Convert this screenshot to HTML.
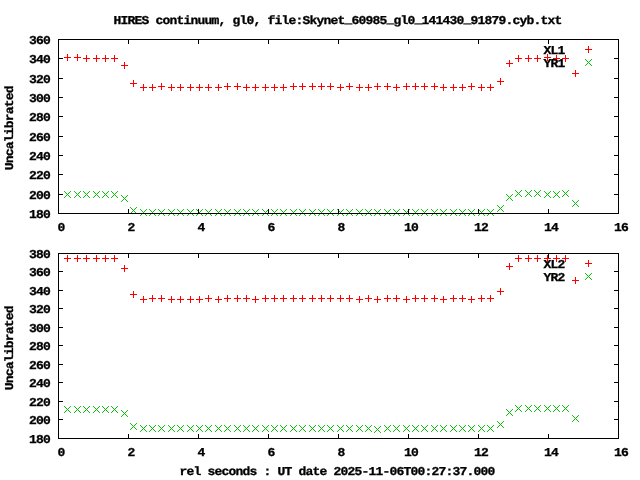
<!DOCTYPE html>
<html><head><meta charset="utf-8"><title>HIRES continuum</title>
<style>
html,body{margin:0;padding:0;background:#fff;}
svg{display:block;}
text{font-family:"Liberation Mono",monospace;font-weight:bold;font-size:12px;letter-spacing:-0.7385px;fill:#000;stroke:#000;stroke-width:0.3px;text-rendering:geometricPrecision;}
</style></head><body>
<svg width="640" height="480" viewBox="0 0 640 480">
<rect width="640" height="480" fill="#fff"/>
<text transform="translate(113.39999999999998,24) scale(1.0833,1)" x="0" y="0">HIRES continuum, gl0, file:Skynet<tspan dy="-1.5">_</tspan><tspan dy="1.5">60985</tspan><tspan dy="-1.5">_</tspan><tspan dy="1.5">gl0</tspan><tspan dy="-1.5">_</tspan><tspan dy="1.5">141430</tspan><tspan dy="-1.5">_</tspan><tspan dy="1.5">91879.cyb.txt</tspan></text>
<path d="M64 57.5h7M67.5 54v7M74 57.5h7M77.5 54v7M83 58.5h7M86.5 55v7M93 58.5h7M96.5 55v7M102 58.5h7M105.5 55v7M111 58.5h7M114.5 55v7M121 65.5h7M124.5 62v7M130 83.5h7M133.5 80v7M140 87.5h7M143.5 84v7M149 87.5h7M152.5 84v7M158 86.5h7M161.5 83v7M168 87.5h7M171.5 84v7M177 87.5h7M180.5 84v7M187 87.5h7M190.5 84v7M196 87.5h7M199.5 84v7M205 87.5h7M208.5 84v7M215 87.5h7M218.5 84v7M224 86.5h7M227.5 83v7M234 86.5h7M237.5 83v7M243 87.5h7M246.5 84v7M252 87.5h7M255.5 84v7M262 87.5h7M265.5 84v7M271 87.5h7M274.5 84v7M280 87.5h7M283.5 84v7M290 86.5h7M293.5 83v7M299 86.5h7M302.5 83v7M309 86.5h7M312.5 83v7M318 86.5h7M321.5 83v7M327 86.5h7M330.5 83v7M337 87.5h7M340.5 84v7M346 86.5h7M349.5 83v7M356 87.5h7M359.5 84v7M365 87.5h7M368.5 84v7M374 86.5h7M377.5 83v7M384 86.5h7M387.5 83v7M393 87.5h7M396.5 84v7M403 86.5h7M406.5 83v7M412 86.5h7M415.5 83v7M421 86.5h7M424.5 83v7M431 86.5h7M434.5 83v7M440 87.5h7M443.5 84v7M450 87.5h7M453.5 84v7M459 87.5h7M462.5 84v7M468 86.5h7M471.5 83v7M478 87.5h7M481.5 84v7M487 87.5h7M490.5 84v7M497 81.5h7M500.5 78v7M506 63.5h7M509.5 60v7M515 58.5h7M518.5 55v7M525 58.5h7M528.5 55v7M534 58.5h7M537.5 55v7M544 57.5h7M547.5 54v7M553 58.5h7M556.5 55v7M562 58.5h7M565.5 55v7M572 73.5h7M575.5 70v7M585 49.5h7M588.5 46v7" stroke="#ff0000" stroke-width="1" fill="none" shape-rendering="crispEdges"/>
<path d="M64.1 191.1l6.8 6.8M64.1 197.9l6.8 -6.8M74.1 191.1l6.8 6.8M74.1 197.9l6.8 -6.8M83.1 191.1l6.8 6.8M83.1 197.9l6.8 -6.8M93.1 191.1l6.8 6.8M93.1 197.9l6.8 -6.8M102.1 191.1l6.8 6.8M102.1 197.9l6.8 -6.8M111.1 191.1l6.8 6.8M111.1 197.9l6.8 -6.8M121.1 195.1l6.8 6.8M121.1 201.9l6.8 -6.8M130.1 207.1l6.8 6.8M130.1 213.9l6.8 -6.8M140.1 209.1l6.8 6.8M140.1 215.9l6.8 -6.8M149.1 209.1l6.8 6.8M149.1 215.9l6.8 -6.8M158.1 209.1l6.8 6.8M158.1 215.9l6.8 -6.8M168.1 209.1l6.8 6.8M168.1 215.9l6.8 -6.8M177.1 209.1l6.8 6.8M177.1 215.9l6.8 -6.8M187.1 209.1l6.8 6.8M187.1 215.9l6.8 -6.8M196.1 209.1l6.8 6.8M196.1 215.9l6.8 -6.8M205.1 209.1l6.8 6.8M205.1 215.9l6.8 -6.8M215.1 209.1l6.8 6.8M215.1 215.9l6.8 -6.8M224.1 209.1l6.8 6.8M224.1 215.9l6.8 -6.8M234.1 209.1l6.8 6.8M234.1 215.9l6.8 -6.8M243.1 209.1l6.8 6.8M243.1 215.9l6.8 -6.8M252.1 209.1l6.8 6.8M252.1 215.9l6.8 -6.8M262.1 209.1l6.8 6.8M262.1 215.9l6.8 -6.8M271.1 209.1l6.8 6.8M271.1 215.9l6.8 -6.8M280.1 209.1l6.8 6.8M280.1 215.9l6.8 -6.8M290.1 209.1l6.8 6.8M290.1 215.9l6.8 -6.8M299.1 209.1l6.8 6.8M299.1 215.9l6.8 -6.8M309.1 209.1l6.8 6.8M309.1 215.9l6.8 -6.8M318.1 209.1l6.8 6.8M318.1 215.9l6.8 -6.8M327.1 209.1l6.8 6.8M327.1 215.9l6.8 -6.8M337.1 209.1l6.8 6.8M337.1 215.9l6.8 -6.8M346.1 209.1l6.8 6.8M346.1 215.9l6.8 -6.8M356.1 209.1l6.8 6.8M356.1 215.9l6.8 -6.8M365.1 209.1l6.8 6.8M365.1 215.9l6.8 -6.8M374.1 209.1l6.8 6.8M374.1 215.9l6.8 -6.8M384.1 209.1l6.8 6.8M384.1 215.9l6.8 -6.8M393.1 209.1l6.8 6.8M393.1 215.9l6.8 -6.8M403.1 209.1l6.8 6.8M403.1 215.9l6.8 -6.8M412.1 209.1l6.8 6.8M412.1 215.9l6.8 -6.8M421.1 209.1l6.8 6.8M421.1 215.9l6.8 -6.8M431.1 209.1l6.8 6.8M431.1 215.9l6.8 -6.8M440.1 209.1l6.8 6.8M440.1 215.9l6.8 -6.8M450.1 209.1l6.8 6.8M450.1 215.9l6.8 -6.8M459.1 209.1l6.8 6.8M459.1 215.9l6.8 -6.8M468.1 209.1l6.8 6.8M468.1 215.9l6.8 -6.8M478.1 209.1l6.8 6.8M478.1 215.9l6.8 -6.8M487.1 209.1l6.8 6.8M487.1 215.9l6.8 -6.8M497.1 205.1l6.8 6.8M497.1 211.9l6.8 -6.8M506.1 194.1l6.8 6.8M506.1 200.9l6.8 -6.8M515.1 190.1l6.8 6.8M515.1 196.9l6.8 -6.8M525.1 190.1l6.8 6.8M525.1 196.9l6.8 -6.8M534.1 190.1l6.8 6.8M534.1 196.9l6.8 -6.8M544.1 191.1l6.8 6.8M544.1 197.9l6.8 -6.8M553.1 191.1l6.8 6.8M553.1 197.9l6.8 -6.8M562.1 190.1l6.8 6.8M562.1 196.9l6.8 -6.8M572.1 200.1l6.8 6.8M572.1 206.9l6.8 -6.8M585.1 59.1l6.8 6.8M585.1 65.9l6.8 -6.8" stroke="#00c000" stroke-width="1" fill="none"/>
<text transform="translate(29.1,218) scale(1.0833,1)" x="0" y="0">180</text>
<text transform="translate(29.1,199) scale(1.0833,1)" x="0" y="0">200</text>
<text transform="translate(29.1,179) scale(1.0833,1)" x="0" y="0">220</text>
<text transform="translate(29.1,160) scale(1.0833,1)" x="0" y="0">240</text>
<text transform="translate(29.1,141) scale(1.0833,1)" x="0" y="0">260</text>
<text transform="translate(29.1,121) scale(1.0833,1)" x="0" y="0">280</text>
<text transform="translate(29.1,102) scale(1.0833,1)" x="0" y="0">300</text>
<text transform="translate(29.1,83) scale(1.0833,1)" x="0" y="0">320</text>
<text transform="translate(29.1,63) scale(1.0833,1)" x="0" y="0">340</text>
<text transform="translate(29.1,44) scale(1.0833,1)" x="0" y="0">360</text>
<text transform="translate(57.4,231) scale(1.0833,1)" x="0" y="0">0</text>
<text transform="translate(127.4,231) scale(1.0833,1)" x="0" y="0">2</text>
<text transform="translate(197.4,231) scale(1.0833,1)" x="0" y="0">4</text>
<text transform="translate(267.4,231) scale(1.0833,1)" x="0" y="0">6</text>
<text transform="translate(337.4,231) scale(1.0833,1)" x="0" y="0">8</text>
<text transform="translate(403.9,231) scale(1.0833,1)" x="0" y="0">10</text>
<text transform="translate(473.9,231) scale(1.0833,1)" x="0" y="0">12</text>
<text transform="translate(543.9,231) scale(1.0833,1)" x="0" y="0">14</text>
<text transform="translate(613.9,231) scale(1.0833,1)" x="0" y="0">16</text>
<path d="M58.5 39.5H618.5V213.5H58.5ZM58 213.5h5M619 213.5h-5M58 194.5h5M619 194.5h-5M58 174.5h5M619 174.5h-5M58 155.5h5M619 155.5h-5M58 136.5h5M619 136.5h-5M58 116.5h5M619 116.5h-5M58 97.5h5M619 97.5h-5M58 78.5h5M619 78.5h-5M58 58.5h5M619 58.5h-5M58 39.5h5M619 39.5h-5M58.5 214v-5M58.5 39v5M128.5 214v-5M128.5 39v5M198.5 214v-5M198.5 39v5M268.5 214v-5M268.5 39v5M338.5 214v-5M338.5 39v5M408.5 214v-5M408.5 39v5M478.5 214v-5M478.5 39v5M548.5 214v-5M548.5 39v5M618.5 214v-5M618.5 39v5" stroke="#000" stroke-width="1" fill="none" shape-rendering="crispEdges"/>
<text transform="translate(543.4,54) scale(1.0833,1)" x="0" y="0">XL1</text>
<text transform="translate(543.4,67) scale(1.0833,1)" x="0" y="0">YR1</text>
<text transform="translate(13.4,170.2) rotate(-90) scale(1.0833,1)" x="0" y="0">Uncalibrated</text>
<path d="M64 258.5h7M67.5 255v7M74 258.5h7M77.5 255v7M83 258.5h7M86.5 255v7M93 258.5h7M96.5 255v7M102 258.5h7M105.5 255v7M111 258.5h7M114.5 255v7M121 268.5h7M124.5 265v7M130 294.5h7M133.5 291v7M140 299.5h7M143.5 296v7M149 298.5h7M152.5 295v7M158 298.5h7M161.5 295v7M168 299.5h7M171.5 296v7M177 299.5h7M180.5 296v7M187 299.5h7M190.5 296v7M196 299.5h7M199.5 296v7M205 298.5h7M208.5 295v7M215 299.5h7M218.5 296v7M224 298.5h7M227.5 295v7M234 298.5h7M237.5 295v7M243 298.5h7M246.5 295v7M252 299.5h7M255.5 296v7M262 298.5h7M265.5 295v7M271 298.5h7M274.5 295v7M280 298.5h7M283.5 295v7M290 298.5h7M293.5 295v7M299 298.5h7M302.5 295v7M309 298.5h7M312.5 295v7M318 298.5h7M321.5 295v7M327 298.5h7M330.5 295v7M337 298.5h7M340.5 295v7M346 298.5h7M349.5 295v7M356 299.5h7M359.5 296v7M365 298.5h7M368.5 295v7M374 299.5h7M377.5 296v7M384 298.5h7M387.5 295v7M393 298.5h7M396.5 295v7M403 299.5h7M406.5 296v7M412 298.5h7M415.5 295v7M421 298.5h7M424.5 295v7M431 298.5h7M434.5 295v7M440 299.5h7M443.5 296v7M450 298.5h7M453.5 295v7M459 298.5h7M462.5 295v7M468 299.5h7M471.5 296v7M478 298.5h7M481.5 295v7M487 298.5h7M490.5 295v7M497 291.5h7M500.5 288v7M506 266.5h7M509.5 263v7M515 258.5h7M518.5 255v7M525 258.5h7M528.5 255v7M534 258.5h7M537.5 255v7M544 258.5h7M547.5 255v7M553 258.5h7M556.5 255v7M562 258.5h7M565.5 255v7M572 280.5h7M575.5 277v7M585 263.5h7M588.5 260v7" stroke="#ff0000" stroke-width="1" fill="none" shape-rendering="crispEdges"/>
<path d="M64.1 406.1l6.8 6.8M64.1 412.9l6.8 -6.8M74.1 406.1l6.8 6.8M74.1 412.9l6.8 -6.8M83.1 406.1l6.8 6.8M83.1 412.9l6.8 -6.8M93.1 406.1l6.8 6.8M93.1 412.9l6.8 -6.8M102.1 406.1l6.8 6.8M102.1 412.9l6.8 -6.8M111.1 406.1l6.8 6.8M111.1 412.9l6.8 -6.8M121.1 410.1l6.8 6.8M121.1 416.9l6.8 -6.8M130.1 423.1l6.8 6.8M130.1 429.9l6.8 -6.8M140.1 425.1l6.8 6.8M140.1 431.9l6.8 -6.8M149.1 425.1l6.8 6.8M149.1 431.9l6.8 -6.8M158.1 425.1l6.8 6.8M158.1 431.9l6.8 -6.8M168.1 425.1l6.8 6.8M168.1 431.9l6.8 -6.8M177.1 425.1l6.8 6.8M177.1 431.9l6.8 -6.8M187.1 425.1l6.8 6.8M187.1 431.9l6.8 -6.8M196.1 425.1l6.8 6.8M196.1 431.9l6.8 -6.8M205.1 425.1l6.8 6.8M205.1 431.9l6.8 -6.8M215.1 425.1l6.8 6.8M215.1 431.9l6.8 -6.8M224.1 425.1l6.8 6.8M224.1 431.9l6.8 -6.8M234.1 425.1l6.8 6.8M234.1 431.9l6.8 -6.8M243.1 425.1l6.8 6.8M243.1 431.9l6.8 -6.8M252.1 425.1l6.8 6.8M252.1 431.9l6.8 -6.8M262.1 425.1l6.8 6.8M262.1 431.9l6.8 -6.8M271.1 425.1l6.8 6.8M271.1 431.9l6.8 -6.8M280.1 425.1l6.8 6.8M280.1 431.9l6.8 -6.8M290.1 425.1l6.8 6.8M290.1 431.9l6.8 -6.8M299.1 425.1l6.8 6.8M299.1 431.9l6.8 -6.8M309.1 425.1l6.8 6.8M309.1 431.9l6.8 -6.8M318.1 425.1l6.8 6.8M318.1 431.9l6.8 -6.8M327.1 425.1l6.8 6.8M327.1 431.9l6.8 -6.8M337.1 425.1l6.8 6.8M337.1 431.9l6.8 -6.8M346.1 425.1l6.8 6.8M346.1 431.9l6.8 -6.8M356.1 425.1l6.8 6.8M356.1 431.9l6.8 -6.8M365.1 425.1l6.8 6.8M365.1 431.9l6.8 -6.8M374.1 426.1l6.8 6.8M374.1 432.9l6.8 -6.8M384.1 425.1l6.8 6.8M384.1 431.9l6.8 -6.8M393.1 425.1l6.8 6.8M393.1 431.9l6.8 -6.8M403.1 425.1l6.8 6.8M403.1 431.9l6.8 -6.8M412.1 425.1l6.8 6.8M412.1 431.9l6.8 -6.8M421.1 425.1l6.8 6.8M421.1 431.9l6.8 -6.8M431.1 425.1l6.8 6.8M431.1 431.9l6.8 -6.8M440.1 425.1l6.8 6.8M440.1 431.9l6.8 -6.8M450.1 425.1l6.8 6.8M450.1 431.9l6.8 -6.8M459.1 425.1l6.8 6.8M459.1 431.9l6.8 -6.8M468.1 425.1l6.8 6.8M468.1 431.9l6.8 -6.8M478.1 425.1l6.8 6.8M478.1 431.9l6.8 -6.8M487.1 425.1l6.8 6.8M487.1 431.9l6.8 -6.8M497.1 421.1l6.8 6.8M497.1 427.9l6.8 -6.8M506.1 409.1l6.8 6.8M506.1 415.9l6.8 -6.8M515.1 405.1l6.8 6.8M515.1 411.9l6.8 -6.8M525.1 405.1l6.8 6.8M525.1 411.9l6.8 -6.8M534.1 405.1l6.8 6.8M534.1 411.9l6.8 -6.8M544.1 405.1l6.8 6.8M544.1 411.9l6.8 -6.8M553.1 405.1l6.8 6.8M553.1 411.9l6.8 -6.8M562.1 405.1l6.8 6.8M562.1 411.9l6.8 -6.8M572.1 415.1l6.8 6.8M572.1 421.9l6.8 -6.8M585.1 273.1l6.8 6.8M585.1 279.9l6.8 -6.8" stroke="#00c000" stroke-width="1" fill="none"/>
<text transform="translate(29.1,443) scale(1.0833,1)" x="0" y="0">180</text>
<text transform="translate(29.1,424) scale(1.0833,1)" x="0" y="0">200</text>
<text transform="translate(29.1,406) scale(1.0833,1)" x="0" y="0">220</text>
<text transform="translate(29.1,387) scale(1.0833,1)" x="0" y="0">240</text>
<text transform="translate(29.1,369) scale(1.0833,1)" x="0" y="0">260</text>
<text transform="translate(29.1,350) scale(1.0833,1)" x="0" y="0">280</text>
<text transform="translate(29.1,332) scale(1.0833,1)" x="0" y="0">300</text>
<text transform="translate(29.1,313) scale(1.0833,1)" x="0" y="0">320</text>
<text transform="translate(29.1,295) scale(1.0833,1)" x="0" y="0">340</text>
<text transform="translate(29.1,276) scale(1.0833,1)" x="0" y="0">360</text>
<text transform="translate(29.1,258) scale(1.0833,1)" x="0" y="0">380</text>
<text transform="translate(57.4,456) scale(1.0833,1)" x="0" y="0">0</text>
<text transform="translate(127.4,456) scale(1.0833,1)" x="0" y="0">2</text>
<text transform="translate(197.4,456) scale(1.0833,1)" x="0" y="0">4</text>
<text transform="translate(267.4,456) scale(1.0833,1)" x="0" y="0">6</text>
<text transform="translate(337.4,456) scale(1.0833,1)" x="0" y="0">8</text>
<text transform="translate(403.9,456) scale(1.0833,1)" x="0" y="0">10</text>
<text transform="translate(473.9,456) scale(1.0833,1)" x="0" y="0">12</text>
<text transform="translate(543.9,456) scale(1.0833,1)" x="0" y="0">14</text>
<text transform="translate(613.9,456) scale(1.0833,1)" x="0" y="0">16</text>
<path d="M58.5 253.5H618.5V438.5H58.5ZM58 438.5h5M619 438.5h-5M58 419.5h5M619 419.5h-5M58 401.5h5M619 401.5h-5M58 382.5h5M619 382.5h-5M58 364.5h5M619 364.5h-5M58 345.5h5M619 345.5h-5M58 327.5h5M619 327.5h-5M58 308.5h5M619 308.5h-5M58 290.5h5M619 290.5h-5M58 271.5h5M619 271.5h-5M58 253.5h5M619 253.5h-5M58.5 439v-5M58.5 253v5M128.5 439v-5M128.5 253v5M198.5 439v-5M198.5 253v5M268.5 439v-5M268.5 253v5M338.5 439v-5M338.5 253v5M408.5 439v-5M408.5 253v5M478.5 439v-5M478.5 253v5M548.5 439v-5M548.5 253v5M618.5 439v-5M618.5 253v5" stroke="#000" stroke-width="1" fill="none" shape-rendering="crispEdges"/>
<text transform="translate(543.4,268) scale(1.0833,1)" x="0" y="0">XL2</text>
<text transform="translate(543.4,281) scale(1.0833,1)" x="0" y="0">YR2</text>
<text transform="translate(13.4,390.2) rotate(-90) scale(1.0833,1)" x="0" y="0">Uncalibrated</text>
<text transform="translate(179.5,475) scale(1.0833,1)" x="0" y="0">rel seconds : UT date 2025-11-06T00:27:37.000</text>
</svg>
</body></html>
